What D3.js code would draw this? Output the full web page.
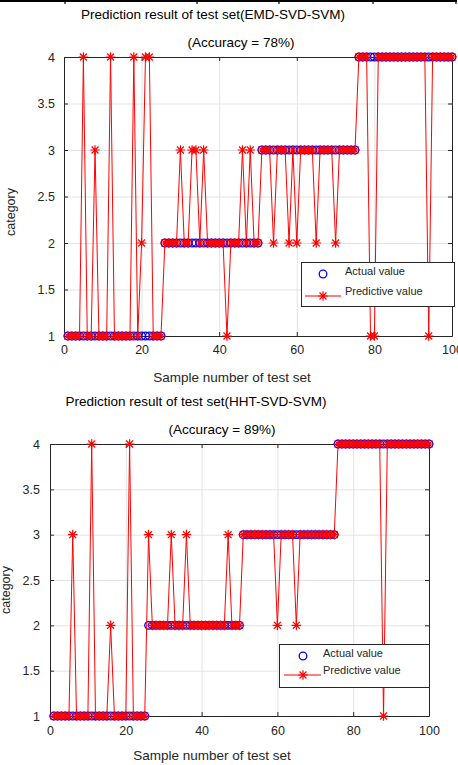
<!DOCTYPE html>
<html>
<head>
<meta charset="utf-8">
<script src="https://cdn.jsdelivr.net/npm/d3@7"></script>
<style>
  body { margin: 0; background: #fff; }
  text { font-family: "Liberation Sans", Arial, sans-serif; }
</style>
</head>
<body>
<svg id="chart" width="458" height="765"></svg>
<script>

// ---- data ----
var xTicks = [0, 20, 40, 60, 80, 100];
var yTicks = [1, 1.5, 2, 2.5, 3, 3.5, 4];
var yTickLabels = ["1", "1.5", "2", "2.5", "3", "3.5", "4"];

var actualValue = [
  1,1,1,1,1,1,1,1,1,1,1,1,1,1,1,1,1,1,1,1,1,1,1,1,1,
  2,2,2,2,2,2,2,2,2,2,2,2,2,2,2,2,2,2,2,2,2,2,2,2,2,
  3,3,3,3,3,3,3,3,3,3,3,3,3,3,3,3,3,3,3,3,3,3,3,3,3,
  4,4,4,4,4,4,4,4,4,4,4,4,4,4,4,4,4,4,4,4,4,4,4,4,4
];

var predEMD = [
  1,1,1,1,4,1,1,3,1,1,1,4,1,1,1,1,1,4,1,2,4,4,1,1,1,
  2,2,2,2,3,2,2,3,3,2,3,2,2,2,2,2,1,2,2,2,3,2,3,2,2,
  3,3,3,2,3,3,3,2,3,2,3,3,3,3,2,3,3,3,3,2,3,3,3,3,3,
  4,4,4,1,1,4,4,4,4,4,4,4,4,4,4,4,4,4,1,4,4,4,4,4,4
];

var predHHT = [
  1,1,1,1,1,3,1,1,1,1,4,1,1,1,1,2,1,1,1,1,4,1,1,1,1,
  3,2,2,2,2,2,3,2,2,2,3,2,2,2,2,2,2,2,2,2,2,3,2,2,2,
  3,3,3,3,3,3,3,3,3,2,3,3,3,3,2,3,3,3,3,3,3,3,3,3,3,
  4,4,4,4,4,4,4,4,4,4,4,4,1,4,4,4,4,4,4,4,4,4,4,4,4
];

var titles = ["Prediction result of test set(EMD-SVD-SVM)", "Prediction result of test set(HHT-SVD-SVM)"];
var accuracies = ["(Accuracy = 78%)", "(Accuracy = 89%)"];
var legendLabels = ["Actual value", "Predictive value"];

// ---- layout ----
var svg = d3.select("#chart");
var axisColor = "#262626";

var panels = [
  { left: 64, right: 452, top: 57, bottom: 336, pad: 9,
    titleX: 213, titleY: 19, accX: 241, accY: 47, xlabX: 232, xlabY: 382,
    ylabX: 15, ylabY: 212,
    leg: { x: 301, y: 262, w: 153, h: 44, mx: 323, tx: 345, y1: 274, y2: 296, l1: 305, l2: 341 } },
  { left: 50, right: 429, top: 444, bottom: 716, pad: 10,
    titleX: 196, titleY: 406, accX: 222, accY: 434, xlabX: 212, xlabY: 760,
    ylabX: 10, ylabY: 590,
    leg: { x: 279, y: 644, w: 150, h: 43, mx: 303, tx: 323, y1: 656, y2: 675, l1: 284, l2: 321 } }
];

// leftover edge of a previous figure at the very top
svg.append("line")
  .attr("x1", 0).attr("x2", 457).attr("y1", 1).attr("y2", 1)
  .attr("stroke", "#000").attr("stroke-width", 2);
[65, 197, 279, 373, 456].forEach(function(px) {
  svg.append("line")
    .attr("x1", px).attr("x2", px).attr("y1", 0).attr("y2", 4)
    .attr("stroke", "#000").attr("stroke-width", 1.2);
});

function starPath(cx, cy, s) {
  var d = s * 0.72;
  return "M" + (cx - s) + "," + cy + "L" + (cx + s) + "," + cy +
         "M" + cx + "," + (cy - s) + "L" + cx + "," + (cy + s) +
         "M" + (cx - d) + "," + (cy - d) + "L" + (cx + d) + "," + (cy + d) +
         "M" + (cx - d) + "," + (cy + d) + "L" + (cx + d) + "," + (cy - d);
}

function drawPanel(p, actual, pred, title, acc) {
  var x = d3.scaleLinear().domain([0, 100]).range([p.left, p.right]);
  var y = d3.scaleLinear().domain([1, 4]).range([p.bottom, p.top]);
  var g = svg.append("g");

  // grid
  g.selectAll(".gx").data(xTicks.slice(1, -1)).enter().append("line")
    .attr("x1", function(d) { return x(d) + 0.5; })
    .attr("x2", function(d) { return x(d) + 0.5; })
    .attr("y1", p.top).attr("y2", p.bottom)
    .attr("stroke", "#e3e3e3").attr("stroke-width", 1);
  g.selectAll(".gy").data(yTicks.slice(1, -1)).enter().append("line")
    .attr("y1", function(d) { return y(d) + 0.5; })
    .attr("y2", function(d) { return y(d) + 0.5; })
    .attr("x1", p.left).attr("x2", p.right)
    .attr("stroke", "#e3e3e3").attr("stroke-width", 1);

  // axes, ticks pointing inward
  var ax = g.append("g").attr("transform", "translate(0," + p.bottom + ")")
    .call(d3.axisBottom(x).tickValues(xTicks).tickSize(-4).tickSizeOuter(0).tickPadding(p.pad));
  var ay = g.append("g").attr("transform", "translate(" + p.left + ",0)")
    .call(d3.axisLeft(y).tickValues(yTicks).tickSize(-4).tickSizeOuter(0).tickPadding(p.pad)
      .tickFormat(function(d, i) { return yTickLabels[i]; }));
  var at = g.append("g").attr("transform", "translate(0," + p.top + ")")
    .call(d3.axisTop(x).tickValues(xTicks).tickSize(-4).tickSizeOuter(0).tickFormat(""));
  var ar = g.append("g").attr("transform", "translate(" + p.right + ",0)")
    .call(d3.axisRight(y).tickValues(yTicks).tickSize(-4).tickSizeOuter(0).tickFormat(""));
  [ax, ay, at, ar].forEach(function(a) {
    a.selectAll("path, line").attr("stroke", axisColor);
    a.selectAll("text").attr("fill", axisColor).style("font-size", "12.5px")
      .style("font-family", "'Liberation Sans', Arial, sans-serif");
  });

  // actual values: blue circles
  g.selectAll(".act").data(actual).enter().append("circle")
    .attr("cx", function(d, i) { return x(i + 1); })
    .attr("cy", function(d) { return y(d); })
    .attr("r", 3.8)
    .attr("fill", "none")
    .attr("stroke", "#0000ff")
    .attr("stroke-width", 1.3);

  // predicted values: red line with stars
  var line = d3.line()
    .x(function(d, i) { return x(i + 1); })
    .y(function(d) { return y(d); });
  g.append("path").datum(pred)
    .attr("d", line)
    .attr("fill", "none")
    .attr("stroke", "#ff0000")
    .attr("stroke-width", 1);
  g.selectAll(".star").data(pred).enter().append("path")
    .attr("d", function(d, i) { return starPath(x(i + 1), y(d), 4.8); })
    .attr("fill", "none")
    .attr("stroke", "#ff0000")
    .attr("stroke-width", 1.2);

  // titles and labels
  g.append("text").attr("x", p.titleX).attr("y", p.titleY)
    .attr("text-anchor", "middle").style("font-size", "13.5px").attr("fill", "#000")
    .text(title);
  g.append("text").attr("x", p.accX).attr("y", p.accY)
    .attr("text-anchor", "middle").style("font-size", "13.5px").attr("fill", "#000")
    .text(acc);
  g.append("text").attr("x", p.xlabX).attr("y", p.xlabY)
    .attr("text-anchor", "middle").style("font-size", "13.5px").attr("fill", axisColor)
    .text("Sample number of test set");
  g.append("text")
    .attr("transform", "translate(" + p.ylabX + "," + p.ylabY + ") rotate(-90)")
    .attr("text-anchor", "middle").style("font-size", "12.5px").attr("fill", axisColor)
    .text("category");

  // legend
  var L = p.leg;
  g.append("rect")
    .attr("x", L.x + 0.5).attr("y", L.y + 0.5).attr("width", L.w).attr("height", L.h)
    .attr("fill", "#fff").attr("stroke", axisColor).attr("stroke-width", 1);
  g.append("circle")
    .attr("cx", L.mx).attr("cy", L.y1).attr("r", 3.8)
    .attr("fill", "none").attr("stroke", "#0000ff").attr("stroke-width", 1.3);
  g.append("line")
    .attr("x1", L.l1).attr("x2", L.l2).attr("y1", L.y2).attr("y2", L.y2)
    .attr("stroke", "#ff0000").attr("stroke-width", 1);
  g.append("path")
    .attr("d", starPath(L.mx, L.y2, 4.8))
    .attr("fill", "none").attr("stroke", "#ff0000").attr("stroke-width", 1.2);
  g.append("text").attr("x", L.tx).attr("y", L.y1 + 1)
    .style("font-size", "11px").attr("fill", axisColor).text(legendLabels[0]);
  g.append("text").attr("x", L.tx).attr("y", L.y2 - 1)
    .style("font-size", "11px").attr("fill", axisColor).text(legendLabels[1]);
}

drawPanel(panels[0], actualValue, predEMD, titles[0], accuracies[0]);
drawPanel(panels[1], actualValue, predHHT, titles[1], accuracies[1]);

</script>
</body>
</html>
